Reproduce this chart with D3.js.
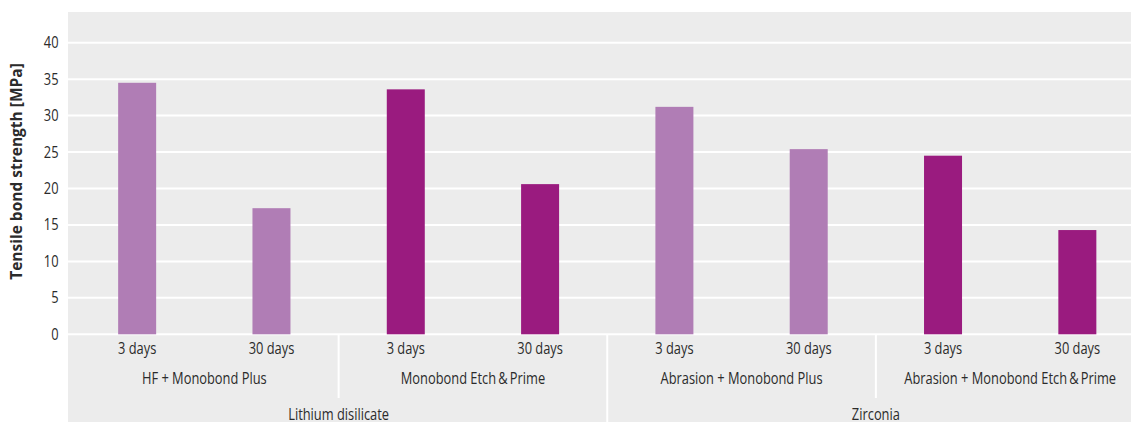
<!DOCTYPE html>
<html><head><meta charset="utf-8">
<script src="https://cdn.jsdelivr.net/npm/d3@7"></script>
<style>body{margin:0;background:#fff}svg{display:block}text{font-family:"Open Sans",sans-serif;fill:#2b2b2b}</style>
</head><body><svg id="c" width="1131" height="423"></svg>
<script>
const times = ["3 days","30 days"];
const treatments = ["HF + Monobond Plus","Monobond Etch\u2009&\u2009Prime","Abrasion + Monobond Plus","Abrasion + Monobond Etch\u2009&\u2009Prime"];
const materials = ["Lithium disilicate","Zirconia"];
const treatmentMaterial = [0,0,1,1];
const values = [34.5,17.3,33.6,20.6,31.2,25.4,24.5,14.3];
const colorKey = ["light","light","dark","dark","light","light","dark","dark"];
const yTicks = [0,5,10,15,20,25,30,35,40];
const yTitle = "Tensile bond strength [MPa]";

const svg = d3.select("#c");
const L = 70, R = 1144.5, T = 42.7, B = 334.3;
const SX = 0.83;
const bars = values.map((v,i)=>({v, i, time: times[i%2], tr: Math.floor(i/2), c: colorKey[i]}));
const x = d3.scaleBand().domain(d3.range(values.length)).range([L,R]).padding(0);
const y = d3.scaleLinear().domain([0,40]).range([B,T]);
const col = {light:"#b07db5", dark:"#9a1b7f"};

svg.append("rect").attr("x",68).attr("y",12).attr("width",1131-68+20).attr("height",410).attr("fill","#ececec");

// gridlines
svg.append("g").selectAll("line").data(yTicks).join("line")
  .attr("x1",68).attr("x2",1131).attr("y1",d=>y(d)).attr("y2",d=>y(d))
  .attr("stroke","#fff").attr("stroke-width",2);

// y axis labels
const yAxis = d3.axisLeft(y).tickValues(yTicks).tickSize(0).tickPadding(0);
const ga = svg.append("g").attr("transform",`translate(58.5,0)`).call(yAxis);
ga.select(".domain").remove();
ga.selectAll("text").attr("font-size",15.5).attr("transform",`scale(${SX},1)`)
  .style("font-family",'"Open Sans",sans-serif').attr("fill","#2b2b2b");

svg.append("text").attr("transform",`translate(22,${(60+283)/2}) rotate(-90)`)
  .attr("text-anchor","middle").attr("font-size",15.5).attr("font-weight","bold")
  .attr("fill","#111").text(yTitle);

// bars
const bw = 38;
svg.append("g").selectAll("rect").data(bars).join("rect")
  .attr("x",d=>x(d.i)+x.bandwidth()/2-bw/2).attr("width",bw)
  .attr("y",d=>y(d.v)).attr("height",d=>y(0)-y(d.v)).attr("fill",d=>col[d.c]);

function cText(g, data, fx, yy, fn){
  return g.selectAll("text").data(data).join("text")
    .attr("transform",(d,i)=>`translate(${fx(d,i)},${yy}) scale(${SX},1)`)
    .attr("text-anchor","middle").attr("font-size",15.5).text(fn);
}

// time labels
cText(svg.append("g"), bars, d=>x(d.i)+x.bandwidth()/2, 354, d=>d.time);

// treatment labels and separators
const grpW = x.bandwidth()*2;
cText(svg.append("g"), treatments, (d,i)=>x(i*2)+grpW/2, 383.5, d=>d);
svg.append("g").selectAll("line").data(treatments.slice(1)).join("line")
  .attr("x1",(d,i)=>x((i+1)*2)).attr("x2",(d,i)=>x((i+1)*2))
  .attr("y1",B).attr("y2",(d,i)=>treatmentMaterial[i+1]!==treatmentMaterial[i]?423:398)
  .attr("stroke","#fff").attr("stroke-width",2);

// material labels
cText(svg.append("g"), materials, (d,m)=>{const idx=treatmentMaterial.map((t,i)=>t===m?i:-1).filter(i=>i>=0);const a=x(idx[0]*2), b=x(idx[idx.length-1]*2)+grpW;return (a+b)/2;}, 420, d=>d);
</script></body></html>
